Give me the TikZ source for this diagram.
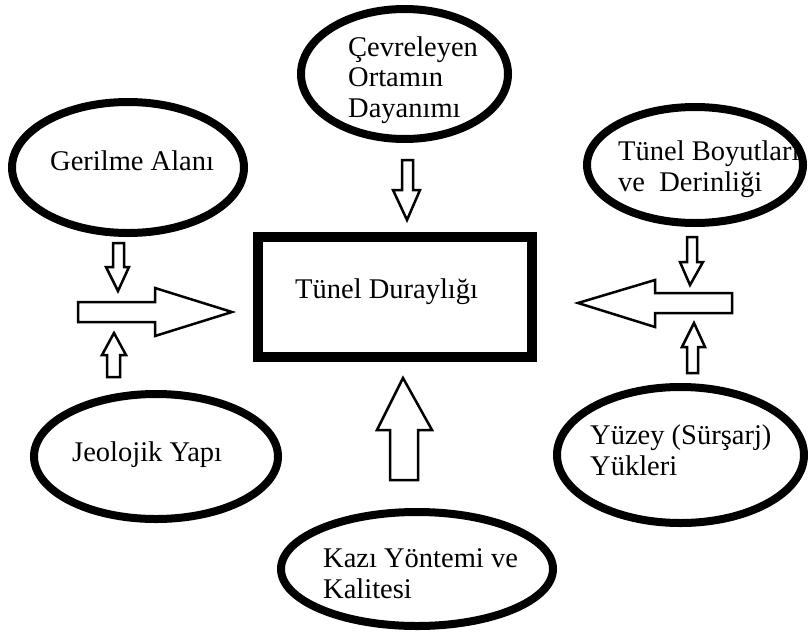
\documentclass[tikz,border=0pt]{standalone}
\usepackage{fontspec}
\setmainfont{Liberation Serif}
\usetikzlibrary{shapes.geometric}

\begin{document}
\begin{tikzpicture}[x=1pt, y=-1pt,
    factor/.style={draw, ellipse, line width=8pt, inner sep=0pt},
    lbl/.style={anchor=base west, align=left, inner sep=0pt, font=\fontsize{28.5}{30.5}\selectfont},
    blockarrow/.style={draw, line width=2.5pt, line join=miter}]

    \useasboundingbox[fill=white] (0,0) rectangle (808,632);

    % Centre box
    \node[draw, line width=10pt, minimum width=274pt, minimum height=120pt] (durayl) at (395,297) {};
    \node[lbl] (duraylT) at (295,298) {Tünel Duraylığı};

    % Ellipses
    \node[factor, minimum width=232pt, minimum height=131pt] (geril) at (128,167.5) {};
    \node[factor, minimum width=244pt, minimum height=125pt] (jeol) at (156,456.5) {};
    \node[factor, minimum width=207pt, minimum height=130pt] (cevre) at (404.5,74) {};
    \node[factor, minimum width=216pt, minimum height=116pt] (boyut) at (695,165) {};
    \node[factor, minimum width=247pt, minimum height=136pt] (yuzey) at (680.5,455) {};
    \node[factor, minimum width=272pt, minimum height=114pt] (kazi) at (417,569) {};

    % Texts (base = last line)
    \node[lbl] (gerilT) at (50,170) {Gerilme Alanı};
    \node[lbl] (jeolT) at (72,461) {Jeolojik Yapı};
    \node[lbl] (cevreT) at (348,117) {Çevreleyen\\Ortamın\\Dayanımı};
    \node[lbl] (boyutT) at (618,191) {Tünel Boyutları\\ve\ \ Derinliği};
    \node[lbl] (yuzeyT) at (590,475) {Yüzey (Sürşarj)\\Yükleri};
    \node[lbl] (kaziT) at (323,598) {Kazı Yöntemi ve\\Kalitesi};

    % Left arrows
    \draw[blockarrow] (78,302) -- (155,302) -- (155,288) -- (232,312) -- (155,336) -- (155,322) -- (78,322) -- cycle;
    \draw[blockarrow] (113,243) -- (124,243) -- (124,267) -- (129,267) -- (118,291) -- (106,267) -- (113,267) -- cycle;
    \draw[blockarrow] (107,377) -- (120,377) -- (120,355) -- (126,355) -- (114,333) -- (102,355) -- (107,355) -- cycle;

    % Right arrows
    \draw[blockarrow] (732,293) -- (655,293) -- (655,280) -- (578,303) -- (655,327) -- (655,313) -- (732,313) -- cycle;
    \draw[blockarrow] (687,237) -- (697,237) -- (697,262) -- (703,262) -- (690,285) -- (680,262) -- (687,262) -- cycle;
    \draw[blockarrow] (687,373) -- (698,373) -- (698,347) -- (705,347) -- (694,323) -- (682,347) -- (687,347) -- cycle;

    % Top and bottom arrows
    \draw[blockarrow] (402,160) -- (413,160) -- (413,190) -- (420,190) -- (407,220) -- (393,190) -- (402,190) -- cycle;
    \draw[blockarrow] (390,480) -- (418,480) -- (418,430) -- (432,430) -- (403,378) -- (377,430) -- (390,430) -- cycle;

\end{tikzpicture}
\end{document}
